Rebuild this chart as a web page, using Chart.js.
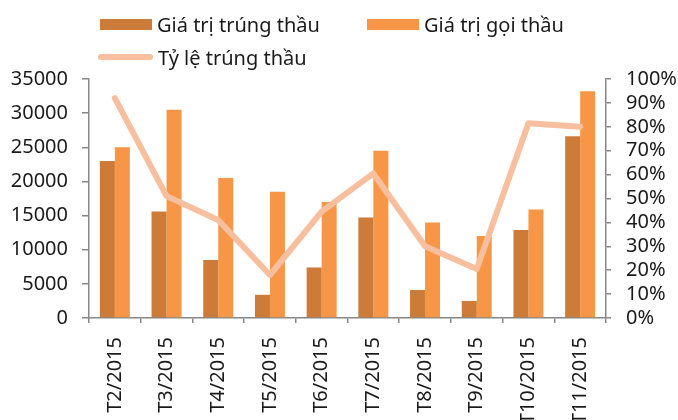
<!DOCTYPE html>
<html>
<head>
<meta charset="utf-8">
<script src="https://cdn.jsdelivr.net/npm/chart.js@4"></script>
<style>
  html, body { margin: 0; padding: 0; background: #fff; overflow: hidden; }
  .wrap { position: relative; width: 678px; height: 420px; }
  .legend { position: absolute; left: 0; top: 0; font-family: "Noto Sans", sans-serif; font-size: 20px; color: #1a1a1a; white-space: nowrap; }
  .legend .item { position: absolute; display: flex; align-items: center; }
  .legend .sw { display: inline-block; margin-right: 5px; }
</style>
</head>
<body>
<div class="wrap">
  <canvas id="chart" width="678" height="420"></canvas>
  <div class="legend" id="legend"></div>
</div>
<script>
const months = ['T2/2015', 'T3/2015', 'T4/2015', 'T5/2015', 'T6/2015', 'T7/2015', 'T8/2015', 'T9/2015', 'T10/2015', 'T11/2015'];
const wonValues = [23000, 15600, 8500, 3400, 7400, 14700, 4100, 2500, 12900, 26600];
const offeredValues = [25000, 30500, 20500, 18500, 17000, 24500, 14000, 12000, 15900, 33200];
const winRate = [92, 51, 41, 18, 44.5, 60.5, 30, 20.5, 81.5, 80];

const seriesNames = ['Giá trị trúng thầu', 'Giá trị gọi thầu', 'Tỷ lệ trúng thầu'];
const colors = ['#cc7b38', '#f79646', '#f8bf9f'];

// legend drawn in html, Excel style
const legend = document.getElementById('legend');
const legendItems = [
  { left: 100, top: 13, sw: 'width:52px;height:11px;background:' + colors[0] },
  { left: 367, top: 13, sw: 'width:52px;height:11px;background:' + colors[1] },
  { left: 98, top: 46, sw: 'width:55px;height:6px;border-radius:3px;background:' + colors[2] },
];
legendItems.forEach((it, i) => {
  const el = document.createElement('div');
  el.className = 'item';
  el.style.left = it.left + 'px';
  el.style.top = it.top + 'px';
  el.style.height = '22px';
  el.innerHTML = '<span class="sw" style="' + it.sw + '"></span><span>' + seriesNames[i] + '</span>';
  legend.appendChild(el);
});

const axisColor = '#878787';
const tickFont = { family: '"Noto Sans", sans-serif', size: 20 };

new Chart(document.getElementById('chart'), {
  type: 'bar',
  data: {
    labels: months,
    datasets: [
      {
        type: 'line',
        label: seriesNames[2],
        data: winRate,
        yAxisID: 'y1',
        borderColor: colors[2],
        borderWidth: 6,
        pointRadius: 0,
        borderCapStyle: 'round',
        borderJoinStyle: 'round',
        tension: 0,
        order: 0,
      },
      {
        label: seriesNames[0],
        data: wonValues,
        backgroundColor: colors[0],
        yAxisID: 'y',
        order: 1,
      },
      {
        label: seriesNames[1],
        data: offeredValues,
        backgroundColor: colors[1],
        yAxisID: 'y',
        order: 2,
      },
    ],
  },
  options: {
    responsive: false,
    animation: false,
    layout: { padding: { top: 79, left: 0, right: 0, bottom: 0 } },
    datasets: {
      bar: { categoryPercentage: 0.58, barPercentage: 1.0 },
    },
    plugins: {
      legend: { display: false },
      tooltip: { enabled: false },
    },
    scales: {
      x: {
        grid: { drawOnChartArea: false, color: axisColor, lineWidth: 1.5, tickLength: 5, offset: true },
        border: { color: axisColor, width: 1.5 },
        ticks: { color: '#1a1a1a', font: tickFont, minRotation: 90, maxRotation: 90, padding: 14, autoSkip: false },
        afterFit: (scale) => { scale.height = 102; },
      },
      y: {
        position: 'left',
        min: 0,
        max: 35000,
        ticks: { stepSize: 5000, autoSkip: false, color: '#1a1a1a', font: tickFont, padding: 14, callback: (v) => String(v) },
        grid: { drawOnChartArea: false, color: axisColor, lineWidth: 1.5, tickLength: 7 },
        border: { color: axisColor, width: 1.5 },
        afterFit: (scale) => { scale.width = 89; },
      },
      y1: {
        position: 'right',
        min: 0,
        max: 100,
        ticks: { stepSize: 10, autoSkip: false, color: '#1a1a1a', font: tickFont, padding: 15, callback: (v) => v + '%' },
        grid: { drawOnChartArea: false, color: axisColor, lineWidth: 1.5, tickLength: 5 },
        border: { color: axisColor, width: 1.5 },
        afterFit: (scale) => { scale.width = 72; },
      },
    },
  },
});
</script>
</body>
</html>
